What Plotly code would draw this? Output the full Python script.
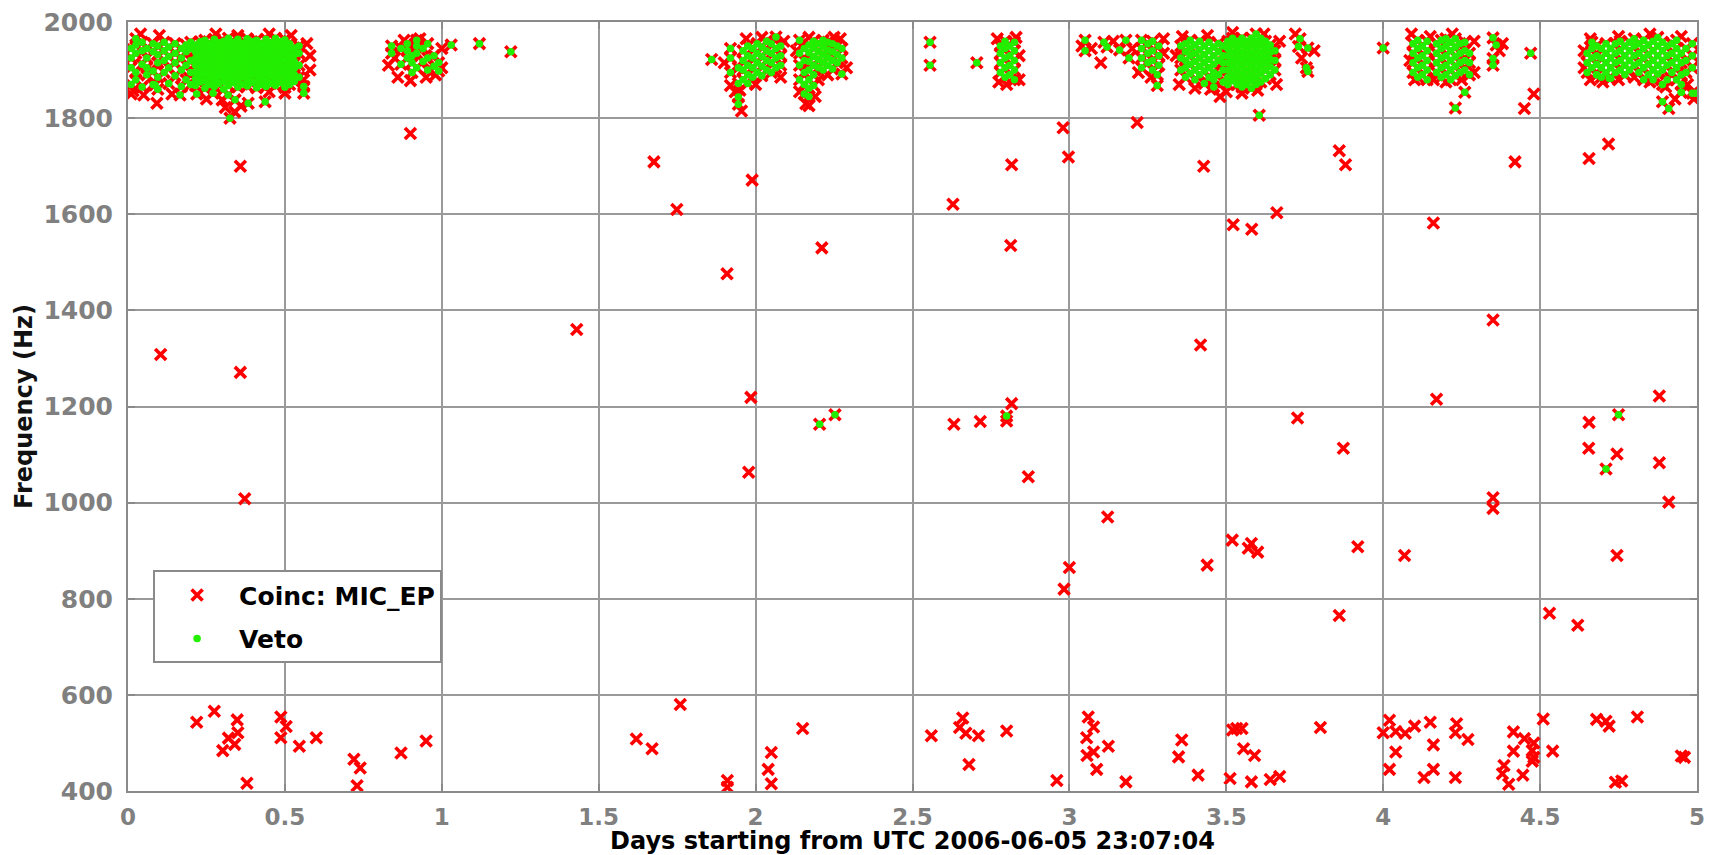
import plotly.graph_objects as go

# ---------------- data ----------------
# Dense bands near the top (each point is both a coincidence and a veto)
band_days = [
    0.010, 0.025, 0.045, 0.060, 0.080, 0.095, 0.115, 0.130, 0.150, 0.170, 0.185, 0.200,
    0.215, 0.230, 0.245, 0.260, 0.275, 0.290, 0.305, 0.320, 0.335, 0.350, 0.365, 0.380,
    0.395, 0.410, 0.425, 0.440, 0.455, 0.470, 0.485, 0.500, 0.515, 0.530, 0.545, 0.560,
    0.840, 0.870, 0.890, 0.905, 0.920, 0.940, 0.955, 0.975, 0.990,
    1.920, 1.945, 1.960, 1.975, 1.990, 2.005, 2.020, 2.035, 2.050, 2.065, 2.080,
    2.140, 2.155, 2.170, 2.185, 2.200, 2.215, 2.230, 2.245, 2.260, 2.275,
    2.780, 2.795, 2.810, 2.825,
    3.230, 3.250, 3.265, 3.285,
    3.355, 3.370, 3.385, 3.400, 3.415, 3.430, 3.445, 3.460, 3.475, 3.490,
    3.505, 3.520, 3.535, 3.550, 3.565, 3.580, 3.595, 3.610, 3.625, 3.640, 3.655,
    4.095, 4.110, 4.125, 4.140,
    4.170, 4.185, 4.200, 4.215, 4.230, 4.245, 4.260, 4.275,
    4.650, 4.665, 4.680, 4.695, 4.710, 4.725, 4.740, 4.755, 4.770, 4.785, 4.800,
    4.815, 4.830, 4.845, 4.860, 4.875, 4.890, 4.905, 4.920, 4.935, 4.950, 4.965, 4.985,
]
band_freqs = [
    [1870, 1905, 1925, 1945], [1880, 1895, 1935, 1952, 1965], [1865, 1912, 1940, 1958],
    [1890, 1905, 1925, 1945], [1870, 1898, 1938, 1955], [1860, 1885, 1915, 1932, 1950],
    [1895, 1920, 1940, 1958], [1872, 1905, 1928, 1948], [1888, 1915, 1935, 1955],
    [1866, 1900, 1925, 1945], [1880, 1910, 1938, 1952], [1870, 1895, 1920, 1945, 1958],
    [1868, 1882, 1896, 1910, 1924, 1938, 1952], [1875, 1889, 1903, 1917, 1931, 1945, 1959],
    [1862, 1878, 1892, 1906, 1920, 1934, 1948, 1962], [1870, 1885, 1899, 1913, 1927, 1941, 1955],
    [1866, 1880, 1894, 1908, 1922, 1936, 1950, 1964], [1872, 1887, 1901, 1915, 1929, 1943, 1957],
    [1860, 1876, 1890, 1904, 1918, 1932, 1946, 1960], [1868, 1883, 1897, 1911, 1925, 1939, 1953, 1966],
    [1874, 1888, 1902, 1916, 1930, 1944, 1958], [1865, 1880, 1894, 1908, 1922, 1936, 1950, 1964],
    [1871, 1886, 1900, 1914, 1928, 1942, 1956], [1867, 1881, 1895, 1909, 1923, 1937, 1951, 1965],
    [1874, 1889, 1903, 1917, 1931, 1945, 1959], [1863, 1878, 1892, 1906, 1920, 1934, 1948, 1962],
    [1870, 1885, 1899, 1913, 1927, 1941, 1955], [1866, 1880, 1894, 1908, 1922, 1936, 1950, 1964],
    [1872, 1887, 1901, 1915, 1929, 1943, 1957], [1868, 1882, 1896, 1910, 1924, 1938, 1952, 1966],
    [1874, 1889, 1903, 1917, 1931, 1945, 1959], [1864, 1879, 1893, 1907, 1921, 1935, 1949, 1963],
    [1870, 1885, 1899, 1913, 1927, 1941, 1955], [1876, 1890, 1904, 1918, 1932, 1946],
    [1885, 1910, 1935, 1950], [1852, 1866],
    [1935, 1950], [1912, 1945], [1925, 1940, 1955], [1895, 1915, 1930], [1905, 1935, 1950, 1962],
    [1918, 1945], [1900, 1925, 1955], [1908, 1930], [1898, 1915],
    [1895, 1925, 1945], [1872, 1905], [1880, 1900, 1920, 1940], [1872, 1890, 1910, 1930, 1950],
    [1885, 1905, 1925, 1945], [1895, 1915, 1935, 1955], [1888, 1908, 1928, 1948],
    [1900, 1920, 1940, 1960], [1895, 1915, 1935, 1955], [1905, 1925, 1945, 1969], [1910, 1930, 1950],
    [1880, 1910, 1935, 1962], [1850, 1870, 1895, 1920, 1945], [1845, 1862, 1880, 1900, 1918, 1936, 1952],
    [1868, 1890, 1910, 1928, 1946, 1960], [1905, 1922, 1938, 1955], [1900, 1916, 1932, 1948, 1962],
    [1910, 1926, 1942, 1958], [1902, 1920, 1938, 1955], [1915, 1932, 1950], [1892, 1925, 1945],
    [1895, 1915, 1935, 1950], [1885, 1905, 1925, 1945, 1960], [1890, 1910, 1930, 1950],
    [1880, 1900, 1920, 1940, 1958],
    [1905, 1925, 1945, 1962], [1915, 1935, 1955], [1900, 1920, 1940, 1960], [1910, 1930, 1950],
    [1900, 1925, 1950], [1885, 1905, 1920, 1938, 1955], [1893, 1912, 1930, 1946, 1962],
    [1880, 1900, 1918, 1935, 1952], [1890, 1908, 1925, 1942, 1960], [1872, 1898, 1915, 1932, 1950],
    [1885, 1905, 1922, 1940, 1958], [1865, 1880, 1895, 1912, 1930, 1948], [1890, 1920, 1938, 1955],
    [1875, 1900, 1915, 1930, 1950],
    [1870, 1885, 1900, 1915, 1930, 1945, 1960], [1878, 1892, 1907, 1922, 1937, 1952, 1966],
    [1870, 1885, 1900, 1915, 1930, 1945, 1960], [1865, 1878, 1892, 1907, 1922, 1937, 1952, 1966],
    [1870, 1885, 1900, 1915, 1930, 1945, 1960], [1862, 1878, 1892, 1907, 1922, 1937, 1952, 1966],
    [1870, 1885, 1900, 1915, 1930, 1945, 1960, 1975], [1875, 1892, 1907, 1922, 1937, 1952, 1966],
    [1882, 1900, 1915, 1930, 1945, 1960], [1890, 1907, 1922, 1937, 1952], [1900, 1920, 1940],
    [1895, 1915, 1935, 1955], [1885, 1905, 1925, 1945, 1962], [1890, 1910, 1930, 1950],
    [1880, 1900, 1920, 1940, 1960],
    [1895, 1915, 1935, 1955], [1885, 1905, 1925, 1945, 1962], [1890, 1910, 1930, 1950, 1965],
    [1880, 1900, 1920, 1940, 1958], [1888, 1908, 1928, 1948, 1965], [1895, 1915, 1935, 1955],
    [1900, 1920, 1940, 1958], [1890, 1915, 1935],
    [1895, 1915, 1935], [1905, 1925, 1945, 1958], [1890, 1912, 1930, 1950], [1885, 1905, 1925, 1945],
    [1895, 1915, 1935, 1955], [1883, 1905, 1925, 1945], [1895, 1915, 1935, 1955],
    [1900, 1920, 1940, 1960], [1890, 1910, 1930, 1950], [1900, 1920, 1940, 1958],
    [1910, 1930, 1950, 1965], [1895, 1915, 1935, 1955], [1880, 1905, 1925, 1945, 1962],
    [1890, 1912, 1932, 1952], [1880, 1900, 1920, 1940, 1960], [1892, 1910, 1930, 1950, 1968],
    [1870, 1900, 1920, 1940, 1958], [1880, 1910, 1930, 1950], [1895, 1915, 1935, 1955],
    [1880, 1905, 1925, 1945, 1962], [1854, 1870, 1890, 1915, 1935], [1895, 1920, 1945],
    [1852, 1905, 1930, 1955],
]

# Isolated triggers that are both coincidences and vetoed
veto_days = [
    0.166, 0.219, 0.271, 0.319, 0.341, 0.325, 0.383, 0.437, 0.086,
    1.030, 1.120, 1.220, 1.860, 1.945, 1.945,
    2.556, 2.556, 2.705,
    3.050, 3.050, 3.110, 3.120, 3.160, 3.180, 3.190, 3.280, 3.280,
    3.605, 3.735, 3.730, 3.760, 3.755, 3.760, 4.000,
    4.350, 4.360, 4.350, 4.350, 4.470, 4.260, 4.230,
    4.890, 4.910, 4.950, 4.995, 4.680, 4.720,
    2.204, 2.253, 2.800, 4.710, 4.750,
]
veto_freqs = [
    1848, 1850, 1852, 1848, 1838, 1800, 1831, 1834, 1869,
    1952, 1955, 1938, 1922, 1829, 1844,
    1958, 1910, 1915,
    1962, 1940, 1958, 1948, 1942, 1962, 1925, 1890, 1868,
    1806, 1965, 1949, 1946, 1905, 1897, 1946,
    1967, 1952, 1924, 1910, 1935, 1854, 1821,
    1834, 1820, 1854, 1852, 1890, 1883,
    1163, 1183, 1180, 1070, 1183,
]

# Coincidences that are not vetoed
coinc_days = [
    # edges of the top bands
    0.010, 0.016, 0.050, 0.092, 0.300, 0.340, 0.310, 0.360, 0.040, 0.100, 0.280, 0.350,
    0.450, 0.520, 0.570, 0.580, 0.580, 0.560, 0.140, 0.250, 0.450, 0.500,
    0.830, 0.860, 0.900, 0.950, 0.980, 1.000, 0.880, 0.850, 0.930, 1.000,
    1.920, 1.935, 1.955, 1.950, 2.000, 2.080, 2.090, 1.970, 2.020, 1.900,
    2.140, 2.160, 2.170, 2.190, 2.200, 2.230, 2.270, 2.290, 2.130, 2.250, 2.170,
    2.775, 2.840, 2.840, 2.770, 2.830, 2.800,
    3.040, 3.100, 3.070, 3.140, 3.200, 3.220, 3.300, 3.300, 3.260,
    3.350, 3.400, 3.450, 3.500, 3.550, 3.600, 3.660, 3.670, 3.360, 3.440, 3.520, 3.620,
    3.480, 3.340, 3.720, 3.780, 3.740,
    4.090, 4.160, 4.150, 4.290, 4.290, 4.200, 4.250, 4.380, 4.370, 4.100, 4.220, 4.085,
    4.640, 4.660, 4.700, 4.750, 4.800, 4.850, 4.900, 4.970, 4.990, 4.660, 4.750, 4.850,
    4.950, 4.930, 4.640,
    # middle frequencies
    0.104, 0.358, 0.358, 0.372, 0.900, 1.430, 1.676, 1.749, 1.909, 1.989, 1.985, 1.978,
    2.211, 2.629, 2.632, 2.716, 2.800, 2.816, 2.816, 2.813, 2.869, 2.980, 2.997, 3.122,
    3.000, 2.983, 3.216, 3.428, 3.418, 3.439, 3.522, 3.581, 3.661, 3.519, 3.580, 3.570,
    3.600, 3.727, 3.860, 3.880, 3.873, 3.919, 3.860, 4.068, 4.160, 4.170, 4.350, 4.350,
    4.350, 4.420, 4.450, 4.480, 4.530, 4.620, 4.656, 4.718, 4.656, 4.655, 4.745, 4.745,
    4.880, 4.880, 4.910,
    # low frequencies
    0.219, 0.275, 0.302, 0.320, 0.348, 0.350, 0.340, 0.379, 0.487, 0.504, 0.487, 0.546,
    0.600, 0.720, 0.740, 0.730, 0.870, 0.950, 1.620, 1.670, 1.760, 1.910, 1.910, 2.040,
    2.050, 2.050, 2.150, 2.560, 2.660, 2.650, 2.670, 2.680, 2.710, 2.800,
    2.960, 3.060, 3.077, 3.055, 3.124, 3.077, 3.056, 3.087, 3.180, 3.358, 3.348, 3.410,
    3.512, 3.520, 3.533, 3.550, 3.555, 3.590, 3.580, 3.640, 3.670, 3.800,
    4.020, 4.000, 4.040, 4.070, 4.100, 4.150, 4.040, 4.160, 4.020, 4.160, 4.130,
    4.234, 4.230, 4.270, 4.230, 4.415, 4.450, 4.480, 4.415, 4.475, 4.480, 4.475,
    4.385, 4.380, 4.400, 4.445, 4.510, 4.540, 4.680, 4.710, 4.720, 4.810, 4.740, 4.760,
    4.950, 4.960,
]
coinc_freqs = [
    1850, 1857, 1848, 1831, 1838, 1813, 1822, 1825, 1975, 1972, 1975, 1972,
    1975, 1972, 1955, 1930, 1900, 1880, 1850, 1840, 1855, 1852,
    1910, 1885, 1878, 1885, 1890, 1905, 1962, 1925, 1965, 1945,
    1868, 1855, 1815, 1858, 1870, 1885, 1960, 1965, 1968, 1915,
    1855, 1830, 1826, 1845, 1880, 1890, 1965, 1905, 1940, 1968, 1968,
    1875, 1880, 1930, 1965, 1968, 1870,
    1950, 1915, 1945, 1960, 1945, 1895, 1935, 1965, 1885,
    1870, 1862, 1860, 1855, 1852, 1858, 1870, 1960, 1970, 1972, 1978, 1975,
    1845, 1930, 1975, 1940, 1925,
    1975, 1880, 1970, 1960, 1895, 1875, 1880, 1955, 1940, 1880, 1975, 1920,
    1905, 1880, 1875, 1880, 1885, 1875, 1865, 1870, 1840, 1965, 1970, 1975,
    1970, 1840, 1940,
    1308, 1700, 1271, 1008, 1768, 1360, 1709, 1610, 1476, 1671, 1219, 1063,
    1530, 1621, 1163, 1169, 1170, 1206, 1703, 1535, 1054, 1780, 1719, 970,
    865, 820, 1791, 1700, 1328, 870, 1578, 1569, 1603, 922, 915, 905,
    897, 1176, 1732, 1703, 1113, 908, 765, 890, 1582, 1215, 1380, 1010,
    988, 1709, 1820, 1850, 770, 745, 1716, 1746, 1167, 1113, 1101, 890,
    1222, 1083, 1001,
    543, 566, 484, 510, 548, 521, 497, 416, 554, 534, 511, 493,
    511, 466, 448, 411, 479, 504, 508, 488, 580, 422, 408, 445,
    480, 415, 530, 515, 552, 532, 520, 455, 515, 525,
    422, 554, 533, 511, 493, 481, 474, 445, 419, 506, 471, 433,
    426, 527, 530, 530, 488, 474, 419, 424, 430, 532,
    547, 521, 524, 520, 535, 543, 481, 496, 445, 445, 428,
    540, 521, 507, 428, 523, 509, 500, 483, 484, 470, 462,
    453, 436, 414, 433, 550, 483, 549, 545, 535, 554, 418, 421,
    473, 470,
]

x_ticks = [0, 0.5, 1, 1.5, 2, 2.5, 3, 3.5, 4, 4.5, 5]
x_ticktext = ["0", "0.5", "1", "1.5", "2", "2.5", "3", "3.5", "4", "4.5", "5"]
y_ticks = [400, 600, 800, 1000, 1200, 1400, 1600, 1800, 2000]

# ---------------- assemble ----------------
band_x, band_y = [], []
for d, fs in zip(band_days, band_freqs):
    for f in fs:
        band_x.append(d)
        band_y.append(f)

all_veto_x = band_x + veto_days
all_veto_y = band_y + veto_freqs
all_coinc_x = coinc_days + all_veto_x
all_coinc_y = coinc_freqs + all_veto_y

FONT = "DejaVu Sans"

fig = go.Figure()
fig.add_trace(go.Scatter(
    x=all_coinc_x, y=all_coinc_y, mode="markers", name="Coinc: MIC_EP",
    legendgroup="a",
    marker=dict(symbol="x-thin", size=11, color="#ff0000",
                line=dict(color="#ff0000", width=3.6)),
))
fig.add_trace(go.Scatter(
    x=all_veto_x, y=all_veto_y, mode="markers", name="Veto",
    legendgroup="b",
    marker=dict(symbol="circle", size=7.5, color="#22ee00", line=dict(width=0)),
))

axis_common = dict(
    showline=True, linecolor="#8a8a8a", linewidth=2, mirror="ticks",
    showgrid=True, gridcolor="#9a9a9a", gridwidth=1.5, zeroline=False,
    ticks="inside", ticklen=7, tickwidth=2, tickcolor="#8a8a8a",
    automargin=False,
)

fig.update_layout(
    width=1711, height=855,
    margin=dict(l=128, r=14, t=22, b=64),
    paper_bgcolor="white", plot_bgcolor="white",
    showlegend=True,
    legend=dict(
        x=0.016, y=0.287, xanchor="left", yanchor="top",
        bgcolor="white", bordercolor="#8a8a8a", borderwidth=2,
        font=dict(family=FONT, size=25, color="black", weight="bold"),
        traceorder="grouped", tracegroupgap=8, itemwidth=74,
    ),
    xaxis=dict(
        range=[0, 5], tickvals=x_ticks, ticktext=x_ticktext,
        tickfont=dict(family=FONT, size=23, color="#808080", weight="bold"),
        ticklabelstandoff=4,
        title=dict(text="Days starting from UTC 2006-06-05 23:07:04",
                   font=dict(family=FONT, size=24, color="black", weight="bold"),
                   standoff=0),
        **axis_common,
    ),
    yaxis=dict(
        range=[400, 2000], tickvals=y_ticks,
        tickfont=dict(family=FONT, size=25, color="#808080", weight="bold"),
        ticklabelstandoff=8,
        title=dict(text="Frequency (Hz)",
                   font=dict(family=FONT, size=24, color="#111111", weight="bold"),
                   standoff=4),
        **axis_common,
    ),
)

fig.write_html("out.html", config={"displayModeBar": False},
               post_script="document.body.style.margin='0';document.body.style.overflow='hidden';")
